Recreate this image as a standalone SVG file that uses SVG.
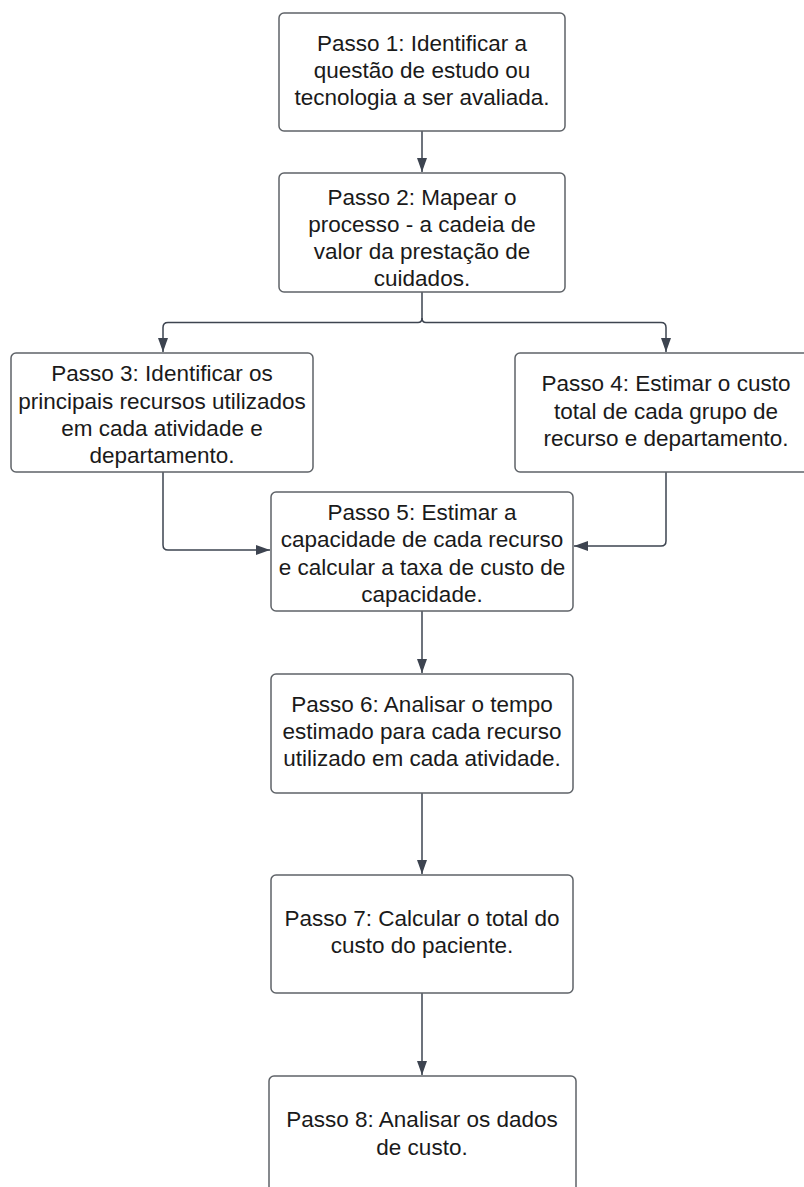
<svg xmlns="http://www.w3.org/2000/svg" width="804" height="1187" viewBox="0 0 804 1187">
<defs>
<style>
.box{fill:#ffffff;stroke:#5f6368;stroke-width:1.5}
.t{font-family:"Liberation Sans",Arial,sans-serif;font-size:22.5px;fill:#1a1a1a;text-anchor:middle}
.c{fill:none;stroke:#3d4450;stroke-width:1.5}
</style>
<marker id="ah" viewBox="0 0 14 10" refX="14" refY="5" markerWidth="14" markerHeight="10" markerUnits="userSpaceOnUse" orient="auto">
<path d="M0,0 L14,5 L0,10 Z" fill="#3d4450"/>
</marker>
</defs>
<rect width="804" height="1187" fill="#ffffff"/>
<g id="connectors">
<path class="c" d="M422,131 V172" marker-end="url(#ah)"/>
<path class="c" d="M422,292 V318 Q422,322.5 418,322.5 H168 Q163,322.5 163,327.5 V352" marker-end="url(#ah)"/>
<path class="c" d="M422,318 Q422,322.5 426,322.5 H661 Q666,322.5 666,327.5 V352" marker-end="url(#ah)"/>
<path class="c" d="M163,472 V545 Q163,550 168,550 H270" marker-end="url(#ah)"/>
<path class="c" d="M666,472 V541 Q666,546 661,546 H574" marker-end="url(#ah)"/>
<path class="c" d="M422,611 V673" marker-end="url(#ah)"/>
<path class="c" d="M422,793 V874" marker-end="url(#ah)"/>
<path class="c" d="M422,993 V1075" marker-end="url(#ah)"/>
</g>
<g id="n1">
<rect class="box" x="279" y="13" width="286" height="118" rx="5"/>
<text class="t" x="422"><tspan x="422" y="51">Passo 1: Identificar a</tspan><tspan x="422" y="78">questão de estudo ou</tspan><tspan x="422" y="105">tecnologia a ser avaliada.</tspan></text>
</g>
<g id="n2">
<rect class="box" x="279" y="173" width="286" height="119" rx="5"/>
<text class="t"><tspan x="422" y="205">Passo 2: Mapear o</tspan><tspan x="422" y="232">processo - a cadeia de</tspan><tspan x="422" y="259">valor da prestação de</tspan><tspan x="422" y="286">cuidados.</tspan></text>
</g>
<g id="n3">
<rect class="box" x="11" y="353" width="302" height="119" rx="5"/>
<text class="t"><tspan x="162" y="381">Passo 3: Identificar os</tspan><tspan x="162" y="409">principais recursos utilizados</tspan><tspan x="162" y="436">em cada atividade e</tspan><tspan x="162" y="463">departamento.</tspan></text>
</g>
<g id="n4">
<rect class="box" x="515" y="353" width="302" height="119" rx="5"/>
<text class="t"><tspan x="666" y="391">Passo 4: Estimar o custo</tspan><tspan x="666" y="419">total de cada grupo de</tspan><tspan x="666" y="446">recurso e departamento.</tspan></text>
</g>
<g id="n5">
<rect class="box" x="271" y="492" width="302" height="119" rx="5"/>
<text class="t"><tspan x="422" y="520">Passo 5: Estimar a</tspan><tspan x="422" y="547">capacidade de cada recurso</tspan><tspan x="422" y="575">e calcular a taxa de custo de</tspan><tspan x="422" y="602">capacidade.</tspan></text>
</g>
<g id="n6">
<rect class="box" x="271" y="674" width="302" height="119" rx="5"/>
<text class="t"><tspan x="422" y="712">Passo 6: Analisar o tempo</tspan><tspan x="422" y="739">estimado para cada recurso</tspan><tspan x="422" y="766">utilizado em cada atividade.</tspan></text>
</g>
<g id="n7">
<rect class="box" x="271" y="875" width="302" height="118" rx="5"/>
<text class="t"><tspan x="422" y="926">Passo 7: Calcular o total do</tspan><tspan x="422" y="953">custo do paciente.</tspan></text>
</g>
<g id="n8">
<rect class="box" x="269" y="1076" width="307" height="125" rx="5"/>
<text class="t"><tspan x="422" y="1127">Passo 8: Analisar os dados</tspan><tspan x="422" y="1155">de custo.</tspan></text>
</g>
</svg>
